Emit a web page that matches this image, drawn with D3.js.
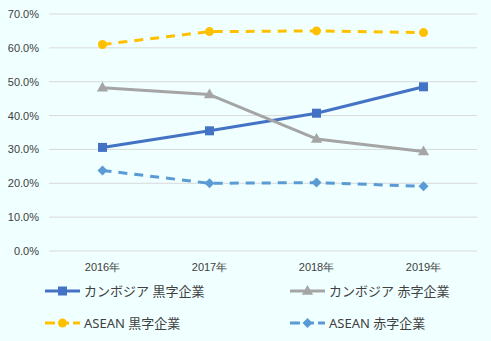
<!DOCTYPE html>
<html><head><meta charset="utf-8">
<script src="https://cdn.jsdelivr.net/npm/d3@7"></script>
<style>
body{margin:0;background:#F0FFFF;}
svg{display:block;font-family:"Noto Sans","Noto Sans CJK JP",sans-serif;}
</style></head>
<body>
<svg id="c" width="491" height="341"></svg>
<script>
const categories = ["2016年","2017年","2018年","2019年"];
const seriesNames = ["カンボジア 黒字企業","カンボジア 赤字企業","ASEAN 黒字企業","ASEAN 赤字企業"];
const cambodiaProfit = [30.6, 35.5, 40.7, 48.5];
const cambodiaLoss = [48.2, 46.2, 33.1, 29.4];
const aseanProfit = [61.0, 64.8, 65.0, 64.5];
const aseanLoss = [23.8, 20.0, 20.2, 19.1];
const yTicks = [0,10,20,30,40,50,60,70];

(function(){
const series = [
  {name: seriesNames[0], values: cambodiaProfit, color:"#4472C4", dash:null, marker:"square"},
  {name: seriesNames[1], values: cambodiaLoss, color:"#A5A5A5", dash:null, marker:"triangle"},
  {name: seriesNames[2], values: aseanProfit, color:"#FFC000", dash:"9,7", marker:"circle"},
  {name: seriesNames[3], values: aseanLoss, color:"#5B9BD5", dash:"9,7", marker:"diamond"}
];

const svg = d3.select("#c");
const mLeft = 49, mRight = 477, mTop = 14, mBottom = 251;
const x = d3.scaleBand().domain(categories).range([mLeft, mRight]);
const y = d3.scaleLinear().domain([0,70]).range([mBottom, mTop]);

svg.append("g").selectAll("line").data(yTicks).join("line")
  .attr("x1", mLeft).attr("x2", mRight)
  .attr("y1", d=>y(d)).attr("y2", d=>y(d))
  .attr("stroke","#D9D9D9").attr("stroke-width",1);

const yAxis = d3.axisLeft(y).tickValues(yTicks).tickFormat(d=>d.toFixed(1)+"%").tickSize(0).tickPadding(0);
const ya = svg.append("g").attr("transform",`translate(${mLeft-10},0)`).call(yAxis);
ya.select(".domain").remove();
ya.selectAll("text").attr("fill","#404040").style("font-size","11px").attr("font-family",null);

const xAxis = d3.axisBottom(x).tickSize(0).tickPadding(0);
const xa = svg.append("g").attr("transform",`translate(0,${mBottom+12})`).call(xAxis);
xa.select(".domain").remove();
xa.selectAll("text").attr("fill","#404040").style("font-size","11px").attr("font-family",null);

const cx = i => x(categories[i]) + x.bandwidth()/2;

function drawMarker(g, type, px, py, color){
  if(type==="square"){
    g.append("rect").attr("x",px-4.5).attr("y",py-4.5).attr("width",9).attr("height",9).attr("fill",color);
  } else if(type==="triangle"){
    g.append("path").attr("d",d3.symbol(d3.symbolTriangle, 55)()).attr("transform",`translate(${px},${py+0.5})`).attr("fill",color);
  } else if(type==="circle"){
    g.append("circle").attr("cx",px).attr("cy",py).attr("r",4.5).attr("fill",color);
  } else {
    g.append("path").attr("d","M0,-5L5,0L0,5L-5,0Z").attr("transform",`translate(${px},${py})`).attr("fill",color);
  }
}

const line = d3.line().x((d,i)=>cx(i)).y(d=>y(d));
series.forEach(s=>{
  const g = svg.append("g");
  g.append("path").attr("d", line(s.values)).attr("fill","none")
    .attr("stroke", s.color).attr("stroke-width",3)
    .attr("stroke-dasharray", s.dash).attr("stroke-linejoin","round");
  s.values.forEach((v,i)=>drawMarker(g, s.marker, cx(i), y(v), s.color));
});

const legendPos = [[45,291],[290,291],[45,323],[290,323]];
series.forEach((s,i)=>{
  const [lx,ly] = legendPos[i];
  const g = svg.append("g");
  g.append("line").attr("x1",lx).attr("x2",lx+35).attr("y1",ly).attr("y2",ly)
    .attr("stroke",s.color).attr("stroke-width",3).attr("stroke-dasharray", s.dash? "10,4": null);
  drawMarker(g, s.marker, lx+17.5, ly, s.color);
  g.append("text").attr("x",lx+39).attr("y",ly).attr("dy","0.35em")
    .attr("fill","#404040").style("font-size","13px")
    .text(s.name);
});
})();
</script>
</body></html>
